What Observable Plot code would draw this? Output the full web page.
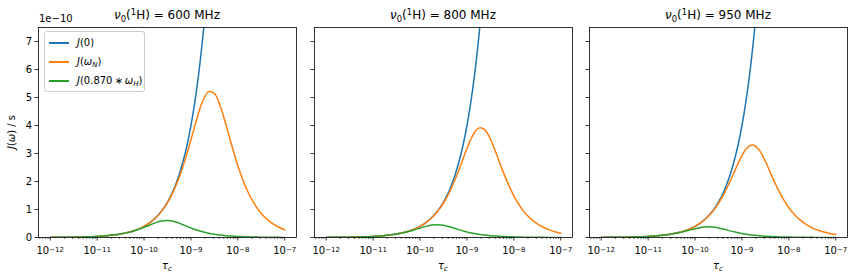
<!DOCTYPE html>
<html>
<head>
<meta charset="utf-8">
<script src="https://cdn.jsdelivr.net/npm/d3@7"></script>
<script src="https://cdn.jsdelivr.net/npm/@observablehq/plot@0.6"></script>
<style>
  html, body { margin: 0; padding: 0; background: white; }
  #chart { position: relative; width: 854px; height: 280px; font-family: "DejaVu Sans", sans-serif; color: black; overflow: hidden; }
  .abs { position: absolute; white-space: nowrap; }
  .title { font-size: 12px; transform: translateX(-50%); top: 8px; line-height: 14px; }
  .sub { font-size: 70%; position: relative; top: 0.3em; }
  .sup { font-size: 70%; position: relative; top: -0.45em; }
  .xlabel { font-size: 10px; transform: translateX(-50%); top: 260px; line-height: 12px; }
  .ylabel { font-size: 10px; left: 12px; top: 132px; transform: translate(-50%, -50%) rotate(-90deg); line-height: 12px; }
  .offset { font-size: 10px; left: 39px; top: 13px; line-height: 12px; }
  .legend { left: 44px; top: 31px; width: 99px; height: 59px; border: 1px solid #cccccc; border-radius: 3px; background: rgba(255,255,255,0.8); font-size: 10px; }
  .legend .row { position: absolute; left: 0; height: 14px; line-height: 14px; }
  .legend .sw { position: absolute; left: 4px; top: 6px; width: 20px; height: 1.5px; }
  .legend .lab { position: absolute; left: 32px; top: 0; white-space: nowrap; }
</style>
</head>
<body>
<div id="chart"></div>
<script>
// ---- data ----
// correlation time tau_c (s)
const tau = [
  1e-12, 1.3335e-12, 1.7783e-12, 2.3714e-12, 3.1623e-12, 4.2170e-12, 5.6234e-12, 7.4989e-12,
  1e-11, 1.3335e-11, 1.7783e-11, 2.3714e-11, 3.1623e-11, 4.2170e-11, 5.6234e-11, 7.4989e-11,
  1e-10, 1.3335e-10, 1.7783e-10, 2.3714e-10, 3.1623e-10, 4.2170e-10, 5.6234e-10, 7.4989e-10,
  1e-9, 1.3335e-9, 1.7783e-9, 2.3714e-9, 3.1623e-9, 4.2170e-9, 5.6234e-9, 7.4989e-9,
  1e-8, 1.3335e-8, 1.7783e-8, 2.3714e-8, 3.1623e-8, 4.2170e-8, 5.6234e-8, 7.4989e-8,
  1e-7
];
// J values in units of 1e-10 s
const J0 = [0.004, 0.005334, 0.007113, 0.009486, 0.012649, 0.016868, 0.022494, 0.029996, 0.04, 0.05334, 0.071132, 0.094856, 0.12649, 0.16868, 0.22494, 0.29996, 0.4, 0.5334, 0.71132, 0.94856, 1.2649, 1.6868, 2.2494, 2.9996, 4.0, 5.334, 7.1132, 9.4856, 12.649];

const JN_600 = [0.004, 0.005334, 0.007113, 0.009486, 0.012649, 0.016868, 0.022494, 0.029996, 0.039999, 0.053339, 0.071128, 0.094848, 0.12647, 0.16864, 0.22484, 0.29971, 0.39942, 0.53202, 0.70803, 0.94087, 1.2467, 1.6441, 2.1501, 2.7720, 3.4903, 4.2345, 4.8662, 5.2086, 5.1415, 4.6899, 4.0042, 3.2564, 2.5638, 1.9780, 1.5078, 1.1413, 0.8604, 0.6471, 0.4861, 0.3649, 0.2738];
const JN_800 = [0.004, 0.005334, 0.007113, 0.009486, 0.012649, 0.016868, 0.022494, 0.029996, 0.039999, 0.053339, 0.071126, 0.094842, 0.12646, 0.16861, 0.22476, 0.29952, 0.39896, 0.53095, 0.70551, 0.93495, 1.2329, 1.6124, 2.0788, 2.6175, 3.1756, 3.6494, 3.9064, 3.8563, 3.5176, 3.0034, 2.4426, 1.9231, 1.4837, 1.1310, 0.8561, 0.6454, 0.4854, 0.3646, 0.2737, 0.2053, 0.1540];
const JN_950 = [0.004, 0.005334, 0.007113, 0.009486, 0.012649, 0.016868, 0.022494, 0.029995, 0.039999, 0.053337, 0.071124, 0.094836, 0.12644, 0.16857, 0.22468, 0.29934, 0.39854, 0.52995, 0.70316, 0.92947, 1.2202, 1.5837, 2.0160, 2.4875, 2.9281, 3.2308, 3.2968, 3.1014, 2.7140, 2.2462, 1.7887, 1.3897, 1.0637, 0.8070, 0.6092, 0.4586, 0.3446, 0.2587, 0.1942, 0.1457, 0.1092];

const JH_600 = [0.004, 0.005334, 0.007113, 0.009485, 0.012648, 0.016865, 0.022486, 0.029978, 0.039957, 0.053238, 0.070891, 0.094286, 0.12514, 0.16551, 0.21754, 0.28285, 0.36115, 0.44775, 0.53077, 0.59103, 0.60939, 0.57908, 0.51103, 0.42552, 0.34022, 0.26499, 0.20314, 0.15426, 0.11651, 0.08772, 0.06593, 0.04950, 0.03715, 0.02787, 0.02090, 0.01568, 0.01176, 0.00882, 0.00661, 0.00496, 0.00372];
const JH_800 = [0.004, 0.005334, 0.007113, 0.009485, 0.012647, 0.016862, 0.022480, 0.029964, 0.039924, 0.053159, 0.070704, 0.093847, 0.12412, 0.16313, 0.21211, 0.27083, 0.33578, 0.39804, 0.44326, 0.45705, 0.43431, 0.38329, 0.31917, 0.25520, 0.19877, 0.15237, 0.11570, 0.08739, 0.06580, 0.04945, 0.03713, 0.02787, 0.02091, 0.01568, 0.01176, 0.00882, 0.00661, 0.00496, 0.00372, 0.00279, 0.00209];
const JH_950 = [0.004, 0.005334, 0.007113, 0.009484, 0.012646, 0.016860, 0.022475, 0.029951, 0.039892, 0.053085, 0.070531, 0.093439, 0.12317, 0.16096, 0.20727, 0.26046, 0.31504, 0.36052, 0.38392, 0.37693, 0.34217, 0.29105, 0.23609, 0.18556, 0.14303, 0.10896, 0.08244, 0.06214, 0.04673, 0.03510, 0.02636, 0.01977, 0.01483, 0.01112, 0.00834, 0.00625, 0.00469, 0.00352, 0.00264, 0.00198, 0.00148];

const fields = ["600", "800", "950"];
const xTicks = [1e-12, 1e-11, 1e-10, 1e-9, 1e-8, 1e-7];
const xTickExponents = ["−12", "−11", "−10", "−9", "−8", "−7"];
const yTicks = [0, 1, 2, 3, 4, 5, 6, 7];
const seriesNames = ["J(0)", "J(ωN)", "J(0.870*ωH)"];
const colors = ["#1f77b4", "#ff7f0e", "#2ca02c"];

// ---- layout ----
const panels = [
  {field: fields[0], JN: JN_600, JH: JH_600, left: 0,   width: 300, mL: 38, mR: 4, labels: true},
  {field: fields[1], JN: JN_800, JH: JH_800, left: 300, width: 276, mL: 14, mR: 4, labels: false},
  {field: fields[2], JN: JN_950, JH: JH_950, left: 576, width: 278, mL: 13, mR: 7, labels: false}
];
const xDomain = [Math.pow(10, -12.25), Math.pow(10, -6.75)];
const minorTicks = [];
for (let e = -13; e <= -7; e++) for (let k = 2; k <= 9; k++) {
  const v = k * Math.pow(10, e);
  if (v >= xDomain[0] && v <= xDomain[1]) minorTicks.push(v);
}
const rows = (ys) => ys.map((y, i) => ({tau: tau[i], j: y}));
const SVGNS = "http://www.w3.org/2000/svg";

const chart = document.getElementById("chart");

panels.forEach((p) => {
  const svg = Plot.plot({
    width: p.width, height: 280,
    marginLeft: p.mL, marginRight: p.mR, marginTop: 27, marginBottom: 43,
    style: {fontFamily: "DejaVu Sans", fontSize: "10px", color: "black", background: "transparent", overflow: "visible"},
    x: {type: "log", domain: xDomain, axis: null},
    y: {domain: [0, 7.5], axis: null},
    marks: [
      Plot.line(rows(J0), {x: "tau", y: "j", stroke: colors[0], strokeWidth: 1.5, curve: "catmull-rom", clip: true}),
      Plot.line(rows(p.JN), {x: "tau", y: "j", stroke: colors[1], strokeWidth: 1.5, curve: "catmull-rom", clip: true}),
      Plot.line(rows(p.JH), {x: "tau", y: "j", stroke: colors[2], strokeWidth: 1.5, curve: "catmull-rom", clip: true}),
      Plot.axisX({ticks: minorTicks, tickSize: 2, tickFormat: () => "", label: null, strokeWidth: 0.6}),
      Plot.axisX({ticks: xTicks, tickSize: 3.5, tickPadding: 6, tickFormat: (d) => "10^" + xTickExponents[xTicks.indexOf(d)], label: null, fontSize: 10, strokeWidth: 0.8}),
      Plot.axisY({ticks: yTicks, tickSize: 3.5, tickPadding: 3, tickFormat: p.labels ? (d) => String(d) : () => "", label: null, fontSize: 10, strokeWidth: 0.8}),
      Plot.frame({stroke: "black", strokeWidth: 0.8})
    ]
  });
  // render "10^exp" tick labels with a raised, smaller exponent
  svg.querySelectorAll("text").forEach((t) => {
    const s = t.textContent;
    if (s.startsWith("10^")) {
      const exp = s.slice(3);
      t.textContent = "10";
      const ts = document.createElementNS(SVGNS, "tspan");
      ts.setAttribute("font-size", "7");
      ts.setAttribute("dy", "-2.3");
      ts.textContent = exp;
      t.appendChild(ts);
    }
  });
  svg.style.position = "absolute";
  svg.style.left = p.left + "px";
  svg.style.top = "0px";
  chart.appendChild(svg);

  const cx = p.left + p.mL + (p.width - p.mL - p.mR) / 2;
  const t = document.createElement("div");
  t.className = "abs title";
  t.style.left = cx + "px";
  t.innerHTML = `<i>ν</i><span class="sub">0</span>(<span class="sup">1</span>H) = ${p.field} MHz`;
  chart.appendChild(t);

  const xl = document.createElement("div");
  xl.className = "abs xlabel";
  xl.style.left = cx + "px";
  xl.innerHTML = `<i>τ</i><span class="sub"><i>c</i></span>`;
  chart.appendChild(xl);
});

const yl = document.createElement("div");
yl.className = "abs ylabel";
yl.innerHTML = `<i>J</i>(<i>ω</i>) / s`;
chart.appendChild(yl);

const off = document.createElement("div");
off.className = "abs offset";
off.textContent = "1e−10";
chart.appendChild(off);

const lg = document.createElement("div");
lg.className = "abs legend";
const labelsHtml = [
  `<i>J</i>(0)`,
  `<i>J</i>(<i>ω</i><span class="sub"><i>N</i></span>)`,
  `<i>J</i>(0.870&thinsp;∗&thinsp;<i>ω</i><span class="sub"><i>H</i></span>)`
];
labelsHtml.forEach((h, i) => {
  const r = document.createElement("div");
  r.className = "row";
  r.style.top = (4 + i * 19) + "px";
  r.title = seriesNames[i];
  r.innerHTML = `<div class="sw" style="background:${colors[i]}"></div><div class="lab">${h}</div>`;
  lg.appendChild(r);
});
chart.appendChild(lg);
</script>
</body>
</html>
